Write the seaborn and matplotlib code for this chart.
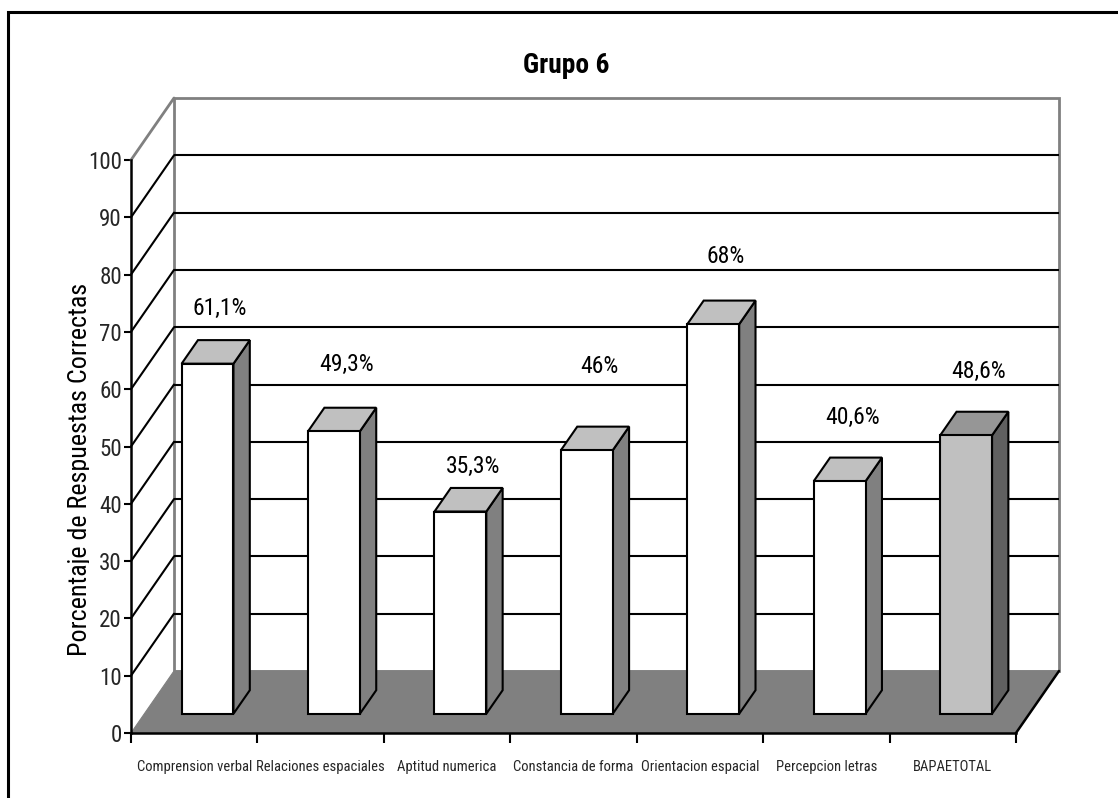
import numpy as np
import pandas as pd
import seaborn as sns
import matplotlib
matplotlib.use("Agg")
import matplotlib.pyplot as plt
from matplotlib import font_manager
from matplotlib.font_manager import FontProperties
from matplotlib.patches import Polygon, Rectangle
from matplotlib.textpath import TextPath

# ---- data -------------------------------------------------------------
categories = ["Comprension verbal", "Relaciones espaciales", "Aptitud numerica",
              "Constancia de forma", "Orientacion espacial", "Percepcion letras",
              "BAPAETOTAL"]
values = [61.1, 49.3, 35.3, 46.0, 68.0, 40.6, 48.6]
y_ticks = list(range(0, 101, 10))
title = "Grupo 6"
y_label = "Porcentaje de Respuestas Correctas"

# ---- styling ----------------------------------------------------------
front_colors = ["#FFFFFF"] * 6 + ["#C0C0C0"]
top_colors = ["#C0C0C0"] * 6 + ["#969696"]
side_colors = ["#808080"] * 6 + ["#606060"]
label_lift = [6.5, 8.4, 4.75, 11.4, 8.7, 7.9, 8.0]   # value-label height above bar (data units)

sns.set_theme(style="white")

# pick a narrow sans face
entries = font_manager.fontManager.ttflist
names = {f.name for f in entries}
family, stretch = "Liberation Sans", "normal"
for cand in ["Liberation Sans Narrow", "Arial Narrow", "Roboto Condensed",
             "Open Sans Condensed", "Noto Sans Condensed", "DejaVu Sans Condensed"]:
    if cand in names:
        family = cand
        break
else:
    for base in ["Liberation Sans", "Noto Sans", "Roboto", "Open Sans", "DejaVu Sans"]:
        if any(f.name == base and "condensed" in str(f.stretch) and f.style == "normal"
               for f in entries):
            family, stretch = base, "condensed"
            break
plt.rcParams["font.family"] = [family, "DejaVu Sans"]
plt.rcParams["font.stretch"] = stretch

W, H, DPI = 1118, 798, 100


def fit_size(s, target_px, weight="normal"):
    """Font size (pt) whose rendered ink width is target_px pixels."""
    prop = FontProperties(family=[family, "DejaVu Sans"], stretch=stretch, weight=weight)
    w = TextPath((0, 0), s, size=10, prop=prop).get_extents().width
    return 10 * target_px / (w * DPI / 72)


cat_size = fit_size("Comprension verbal", 113)
tick_size = fit_size("100", 31)
val_size = fit_size("61,1%", 52)
title_size = fit_size(title, 84, weight="bold")
ylab_size = fit_size(y_label, 370)

fig = plt.figure(figsize=(W / DPI, H / DPI), dpi=DPI)
fig.patch.set_facecolor("white")

# front plane of the 3-D box in pixels
left_px, right_px, bottom_px, top_px = 131, 1016, 733, 160
ax = fig.add_axes([left_px / W, (H - bottom_px) / H,
                   (right_px - left_px) / W, (bottom_px - top_px) / H])
ax.set_facecolor("none")
n = len(categories)

# bars: front faces from seaborn
df = pd.DataFrame({"categoria": categories, "valor": values})
sns.barplot(data=df, x="categoria", y="valor", hue="categoria",
            palette=front_colors, legend=False, width=0.41, saturation=1,
            edgecolor="black", linewidth=1.5, ax=ax)
ax.set_xlim(-0.5, n - 0.5)
ax.set_ylim(0, 100)

# oblique depth vector (43 px right, 62 px up) expressed in data units
ux = (right_px - left_px) / n
uy = (bottom_px - top_px) / 100.0
DX, DY = 43 / ux, 62 / uy
x0, x1 = -0.5, n - 0.5

bars = [p for c in ax.containers for p in c]
f0, f1 = 0.31, 0.69
for p in bars:
    i = int(round(p.get_x() + p.get_width() / 2))
    bx0 = p.get_x()
    bx1 = bx0 + p.get_width()
    h = p.get_height()
    # push the front face into the box
    p.set_x(bx0 + f0 * DX)
    p.set_y(f0 * DY)
    p.set_zorder(2.1)
    p.set_clip_on(False)
    side = [(bx1 + f0 * DX, f0 * DY), (bx1 + f0 * DX, h + f0 * DY),
            (bx1 + f1 * DX, h + f1 * DY), (bx1 + f1 * DX, f1 * DY)]
    top = [(bx0 + f0 * DX, h + f0 * DY), (bx1 + f0 * DX, h + f0 * DY),
           (bx1 + f1 * DX, h + f1 * DY), (bx0 + f1 * DX, h + f1 * DY)]
    ax.add_patch(Polygon(side, closed=True, facecolor=side_colors[i],
                         edgecolor="black", lw=1.5, zorder=2.0, clip_on=False,
                         joinstyle="miter"))
    ax.add_patch(Polygon(top, closed=True, facecolor=top_colors[i],
                         edgecolor="black", lw=1.5, zorder=2.0, clip_on=False,
                         joinstyle="miter"))

# back wall
ax.add_patch(Rectangle((x0 + DX, DY), x1 - x0, 100, facecolor="white",
                       edgecolor="#808080", lw=2, zorder=0.5, clip_on=False))
for v in y_ticks[1:-1]:
    ax.plot([x0 + DX, x1 + DX], [v + DY, v + DY], color="black", lw=1.5,
            zorder=0.6, clip_on=False, solid_capstyle="butt")
    ax.plot([x0, x0 + DX], [v, v + DY], color="black", lw=1.5,
            zorder=0.6, clip_on=False)
ax.plot([x0, x0 + DX], [100, 100 + DY], color="#808080", lw=2,
        zorder=0.6, clip_on=False)

# floor
ax.add_patch(Polygon([(x0, 0), (x1, 0), (x1 + DX, DY), (x0 + DX, DY)],
                     closed=True, facecolor="#808080", edgecolor="#808080",
                     lw=0.8, zorder=0.8, clip_on=False))
ax.plot([x1, x1 + DX], [0, DY], color="black", lw=1.8, zorder=0.9, clip_on=False)

# value labels
for i, v in enumerate(values):
    txt = f"{v:g}".replace(".", ",") + "%"
    ax.text(i + 0.6 * DX, v + label_lift[i] + 0.5 * DY, txt, ha="center",
            va="baseline", fontsize=val_size, color="black", zorder=4)

# axes, ticks
for s in ["top", "right"]:
    ax.spines[s].set_visible(False)
for s in ["left", "bottom"]:
    ax.spines[s].set_color("black")
    ax.spines[s].set_linewidth(1.8)
    ax.spines[s].set_zorder(3)
ax.set_yticks(y_ticks)
ax.set_yticklabels([str(t) for t in y_ticks])
ax.set_xticks(np.arange(-0.5, n, 1.0))
ax.set_xticklabels([])
ax.set_xticks(np.arange(n), minor=True)
ax.set_xticklabels(categories, minor=True)
ax.tick_params(axis="y", direction="out", length=5, width=1.5, color="black",
               labelsize=tick_size, pad=1.5, left=True)
ax.tick_params(axis="x", which="major", direction="out", length=7.5, width=1.5,
               color="black", bottom=True)
ax.tick_params(axis="x", which="minor", length=0, labelsize=cat_size, pad=19.5)
ax.set_xlabel("")
ax.set_ylabel("")
ax.grid(False)

# title
fig.text(566 / W, 1 - 73 / H, title, ha="center", va="baseline",
         fontsize=title_size, fontweight="bold", color="black")

# rotated axis title, trimmed at its baseline
yl = fig.text(87 / W, 1 - 469 / H, y_label, rotation=90, rotation_mode="anchor",
              ha="center", va="baseline", fontsize=ylab_size, color="black")
clip_rect = Rectangle((0, 0), 89 / W, 1, transform=fig.transFigure)
yl.set_clip_path(clip_rect)
yl.set_clip_on(True)

# outer chart frame
fig.patches.append(Rectangle((8 / W, -0.05), 1.2, (H - 12) / H + 0.05,
                             transform=fig.transFigure, fill=False,
                             edgecolor="black", lw=2.2, figure=fig))

fig.savefig("out.png", dpi=DPI)
